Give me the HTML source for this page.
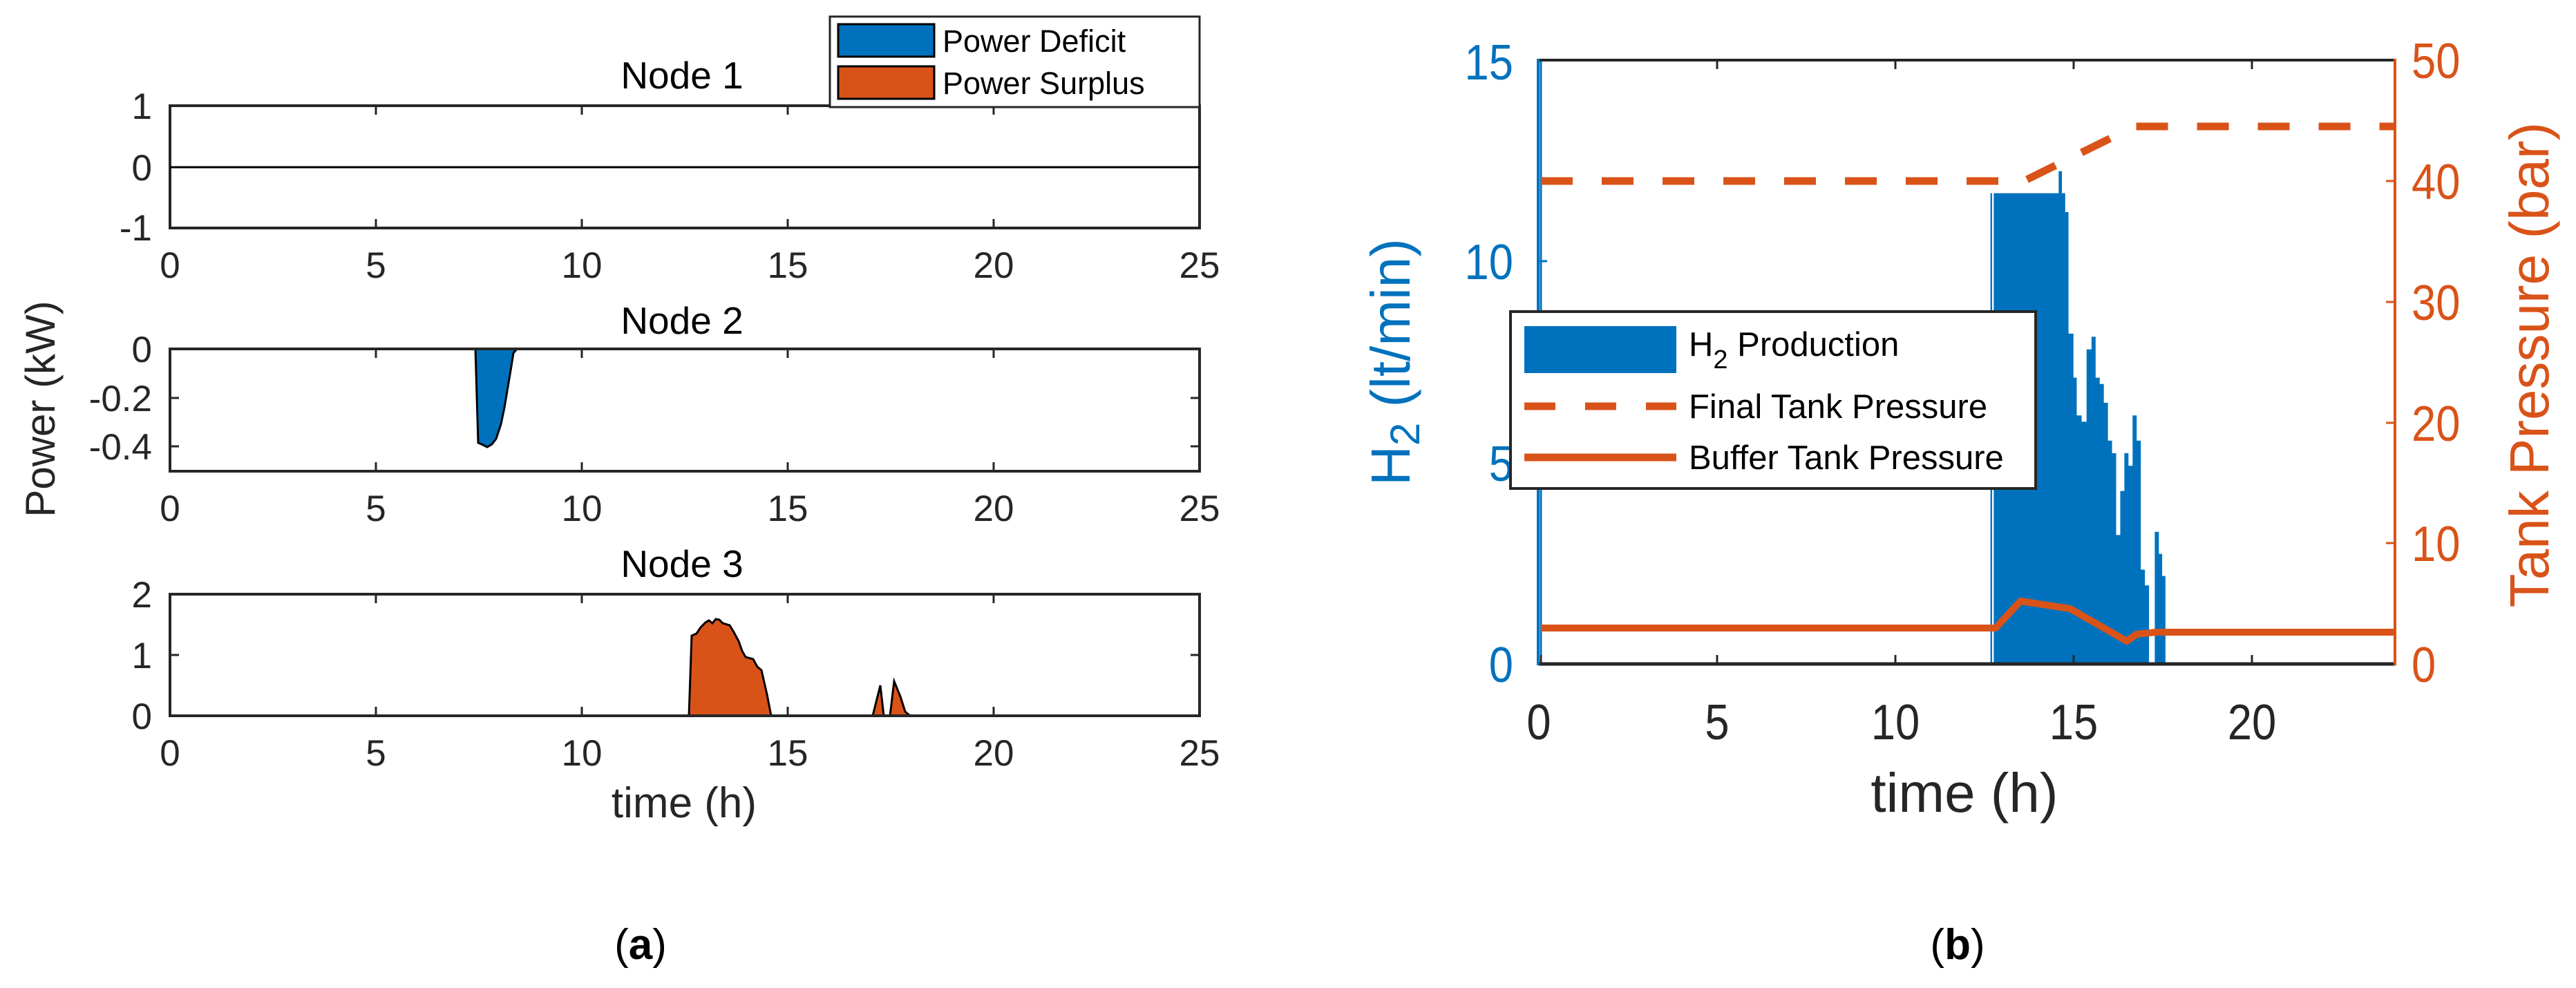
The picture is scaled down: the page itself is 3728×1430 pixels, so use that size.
<!DOCTYPE html>
<html><head><meta charset="utf-8"><style>
html,body{margin:0;padding:0;background:#fff;}
svg{display:block;}
text{font-family:"Liberation Sans",sans-serif;}
</style></head><body>
<svg width="3728" height="1430" viewBox="0 0 3728 1430" xmlns="http://www.w3.org/2000/svg">
<rect width="3728" height="1430" fill="#fff"/>
<!-- ===== Left (a) ===== -->
<g fill="#262626" font-size="53" text-anchor="middle">
<text x="987" y="128" fill="#000" font-size="55">Node 1</text>
<rect x="246" y="153" width="1490" height="177" fill="none" stroke="#262626" stroke-width="4"/>
<line x1="246" y1="242" x2="1736" y2="242" stroke="#000" stroke-width="3"/>
<g stroke="#262626" stroke-width="3">
<line x1="544" y1="153" x2="544" y2="166"/><line x1="842" y1="153" x2="842" y2="166"/><line x1="1140" y1="153" x2="1140" y2="166"/><line x1="1438" y1="153" x2="1438" y2="166"/>
<line x1="544" y1="330" x2="544" y2="317"/><line x1="842" y1="330" x2="842" y2="317"/><line x1="1140" y1="330" x2="1140" y2="317"/><line x1="1438" y1="330" x2="1438" y2="317"/>
</g>
<g text-anchor="end"><text x="220" y="172">1</text><text x="220" y="261">0</text><text x="220" y="348">-1</text></g>
<text x="246" y="402">0</text><text x="544" y="402">5</text><text x="842" y="402">10</text><text x="1140" y="402">15</text><text x="1438" y="402">20</text><text x="1736" y="402">25</text>
<text x="987" y="483" fill="#000" font-size="55">Node 2</text>
<path d="M688 505 L692 641 L697 643 L705 647 L712 643 L718 635 L725 614 L730 590 L735 560 L740 530 L743 511 L748 505 Z" fill="#0072bd" stroke="#000" stroke-width="3"/>
<rect x="246" y="505" width="1490" height="177" fill="none" stroke="#262626" stroke-width="4"/>
<g stroke="#262626" stroke-width="3">
<line x1="544" y1="505" x2="544" y2="518"/><line x1="842" y1="505" x2="842" y2="518"/><line x1="1140" y1="505" x2="1140" y2="518"/><line x1="1438" y1="505" x2="1438" y2="518"/>
<line x1="544" y1="682" x2="544" y2="669"/><line x1="842" y1="682" x2="842" y2="669"/><line x1="1140" y1="682" x2="1140" y2="669"/><line x1="1438" y1="682" x2="1438" y2="669"/>
<line x1="246" y1="576" x2="259" y2="576"/><line x1="246" y1="646" x2="259" y2="646"/>
<line x1="1736" y1="576" x2="1723" y2="576"/><line x1="1736" y1="646" x2="1723" y2="646"/>
</g>
<g text-anchor="end"><text x="220" y="524">0</text><text x="220" y="595">-0.2</text><text x="220" y="665">-0.4</text></g>
<text x="246" y="754">0</text><text x="544" y="754">5</text><text x="842" y="754">10</text><text x="1140" y="754">15</text><text x="1438" y="754">20</text><text x="1736" y="754">25</text>
<text x="987" y="835" fill="#000" font-size="55">Node 3</text>
<path d="M997 1036 L1001 920 L1008 917 L1014 908 L1021 901 L1026 898 L1031 902 L1036 896 L1041 897 L1046 902 L1056 905 L1062 915 L1069 928 L1074 942 L1079 951 L1090 954 L1096 965 L1102 970 L1110 1005 L1116 1036 Z" fill="#d95319" stroke="#000" stroke-width="3"/>
<path d="M1263 1036 L1274 992 L1279 1036 Z" fill="#d95319" stroke="#000" stroke-width="3"/>
<path d="M1288 1036 L1294 986 L1303 1008 L1310 1030 L1317 1036 Z" fill="#d95319" stroke="#000" stroke-width="3"/>
<rect x="246" y="860" width="1490" height="176" fill="none" stroke="#262626" stroke-width="4"/>
<g stroke="#262626" stroke-width="3">
<line x1="544" y1="860" x2="544" y2="873"/><line x1="842" y1="860" x2="842" y2="873"/><line x1="1140" y1="860" x2="1140" y2="873"/><line x1="1438" y1="860" x2="1438" y2="873"/>
<line x1="544" y1="1036" x2="544" y2="1023"/><line x1="842" y1="1036" x2="842" y2="1023"/><line x1="1140" y1="1036" x2="1140" y2="1023"/><line x1="1438" y1="1036" x2="1438" y2="1023"/>
<line x1="246" y1="948" x2="259" y2="948"/><line x1="1736" y1="948" x2="1723" y2="948"/>
</g>
<g text-anchor="end"><text x="220" y="879">2</text><text x="220" y="967">1</text><text x="220" y="1055">0</text></g>
<text x="246" y="1108">0</text><text x="544" y="1108">5</text><text x="842" y="1108">10</text><text x="1140" y="1108">15</text><text x="1438" y="1108">20</text><text x="1736" y="1108">25</text>
<text x="990" y="1183" font-size="62">time (h)</text>
<text transform="translate(79,592) rotate(-90)" font-size="60">Power (kW)</text>
</g>
<rect x="1201" y="24" width="535" height="131" fill="#fff" stroke="#262626" stroke-width="3"/>
<rect x="1213" y="35" width="139" height="47" fill="#0072bd" stroke="#000" stroke-width="3"/>
<rect x="1213" y="96" width="139" height="47" fill="#d95319" stroke="#000" stroke-width="3"/>
<text x="1364" y="75" font-size="45" fill="#000">Power Deficit</text>
<text x="1364" y="136" font-size="45" fill="#000">Power Surplus</text>
<text x="927" y="1388" font-family="Liberation Serif,serif" font-size="62" text-anchor="middle" fill="#000">(<tspan font-weight="bold">a</tspan>)</text>

<!-- ===== Right (b) ===== -->
<g transform="translate(1864,0) scale(1.189,0.911)">
<path d="M859 1055 V307 H938 V272 H942 V307 H946 V337 H950 V530 H956 V600 H960 V660 H966 V670 H972 V555 H978 V535 H983 V600 H988 V610 H993 V640 H998 V700 H1003 V720 H1008 V850 H1013 V780 H1018 V720 H1023 V740 H1028 V660 H1033 V700 H1038 V905 H1043 V930 H1048 V1055 Z" fill="#0072bd"/>
<path d="M855 1055 V307 H857 V1055 Z" fill="#0072bd"/>
<path d="M1055 1055 V845 H1060 V880 H1064 V915 H1068 V1055 Z" fill="#0072bd"/>
</g>
<line x1="2230" y1="87" x2="2230" y2="961" stroke="#0072bd" stroke-width="3"/>
<line x1="2227" y1="87" x2="3466" y2="87" stroke="#262626" stroke-width="4"/>
<line x1="2227" y1="961" x2="3466" y2="961" stroke="#262626" stroke-width="5"/>
<line x1="2226" y1="85" x2="2226" y2="963" stroke="#0072bd" stroke-width="4"/>
<line x1="3466" y1="85" x2="3466" y2="963" stroke="#d95319" stroke-width="4"/>
<g stroke="#262626" stroke-width="3">
<line x1="2485" y1="87" x2="2485" y2="100"/><line x1="2743" y1="87" x2="2743" y2="100"/><line x1="3001" y1="87" x2="3001" y2="100"/><line x1="3259" y1="87" x2="3259" y2="100"/>
<line x1="2230" y1="961" x2="2230" y2="948"/><line x1="2485" y1="961" x2="2485" y2="948"/><line x1="2743" y1="961" x2="2743" y2="948"/><line x1="3001" y1="961" x2="3001" y2="948"/><line x1="3259" y1="961" x2="3259" y2="948"/>
</g>
<g stroke="#0072bd" stroke-width="3"><line x1="2226" y1="378" x2="2239" y2="378"/><line x1="2226" y1="670" x2="2239" y2="670"/></g>
<g stroke="#d95319" stroke-width="3"><line x1="3466" y1="262" x2="3453" y2="262"/><line x1="3466" y1="437" x2="3453" y2="437"/><line x1="3466" y1="612" x2="3453" y2="612"/><line x1="3466" y1="786" x2="3453" y2="786"/></g>
<polyline points="2230,262 2929,262 3089,183 3465,183" fill="none" stroke="#d95319" stroke-width="11" stroke-dasharray="46 42"/>
<polyline points="2230,909 2888,909 2924,870 2996,881 3078,928 3092,918 3120,915 3465,915" fill="none" stroke="#d95319" stroke-width="10" stroke-linejoin="round"/>
<!-- tick labels (condensed) -->
<g font-size="72" text-anchor="end" fill="#0072bd">
<text transform="translate(2190,115) scale(0.88,1)">15</text>
<text transform="translate(2190,404) scale(0.88,1)">10</text>
<text transform="translate(2190,696) scale(0.88,1)">5</text>
<text transform="translate(2190,987) scale(0.88,1)">0</text>
</g>
<g font-size="72" fill="#d95319">
<text transform="translate(3490,113) scale(0.88,1)">50</text>
<text transform="translate(3490,288) scale(0.88,1)">40</text>
<text transform="translate(3490,463) scale(0.88,1)">30</text>
<text transform="translate(3490,638) scale(0.88,1)">20</text>
<text transform="translate(3490,812) scale(0.88,1)">10</text>
<text transform="translate(3490,987) scale(0.88,1)">0</text>
</g>
<g font-size="72" text-anchor="middle" fill="#262626">
<text transform="translate(2227,1070) scale(0.88,1)">0</text>
<text transform="translate(2485,1070) scale(0.88,1)">5</text>
<text transform="translate(2743,1070) scale(0.88,1)">10</text>
<text transform="translate(3001,1070) scale(0.88,1)">15</text>
<text transform="translate(3259,1070) scale(0.88,1)">20</text>
<text x="2843" y="1175" font-size="80">time (h)</text>
</g>
<text transform="translate(2040,524) rotate(-90)" font-size="80" text-anchor="middle" fill="#0072bd">H<tspan font-size="60" dy="14">2</tspan><tspan dy="-14"> (lt/min)</tspan></text>
<text transform="translate(3688,528) rotate(-90)" font-size="80" text-anchor="middle" fill="#d95319">Tank Pressure (bar)</text>
<rect x="2186" y="451" width="760" height="256" fill="#fff" stroke="#262626" stroke-width="4"/>
<rect x="2206" y="472" width="220" height="68" fill="#0072bd"/>
<line x1="2206" y1="588" x2="2426" y2="588" stroke="#d95319" stroke-width="11" stroke-dasharray="45 43"/>
<line x1="2206" y1="662" x2="2426" y2="662" stroke="#d95319" stroke-width="11"/>
<g font-size="49" fill="#000">
<text x="2444" y="515">H<tspan font-size="38" dy="18">2</tspan><tspan dy="-18"> Production</tspan></text>
<text x="2444" y="605">Final Tank Pressure</text>
<text x="2444" y="679">Buffer Tank Pressure</text>
</g>
<text x="2833" y="1388" font-family="Liberation Serif,serif" font-size="62" text-anchor="middle" fill="#000">(<tspan font-weight="bold">b</tspan>)</text>
</svg>
</body></html>
